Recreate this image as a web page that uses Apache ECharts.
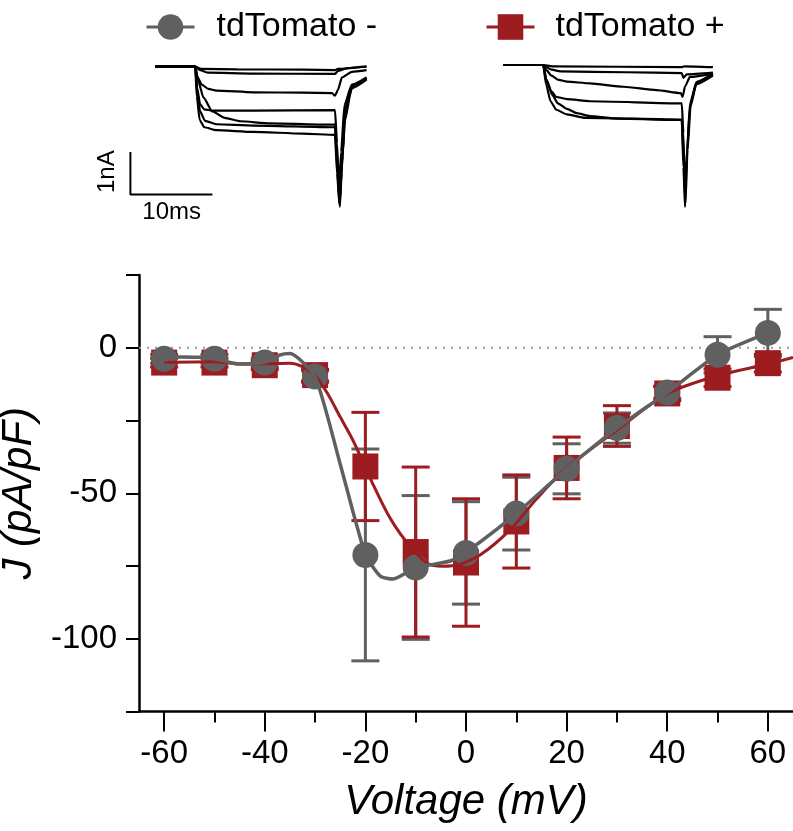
<!DOCTYPE html>
<html><head><meta charset="utf-8">
<script src="https://cdn.jsdelivr.net/npm/echarts@6/dist/echarts.min.js"></script>
<style>html,body{margin:0;padding:0;background:#fff}#c{width:793px;height:831px}</style>
</head><body><div id="c"></div>
<script>
// ---- I-V data (Voltage mV, current density pA/pF) ----
const voltages = [-60,-50,-40,-30,-20,-10,0,10,20,30,40,50,60];
const negMean = [-3.8,-3.8,-5.1,-9.9,-71.2,-75.5,-70.5,-57,-41.6,-27.6,-15.4,-2.4,5.1];
const negSem  = [1.5,1.5,1.5,2,36.4,24.7,17.6,12.5,8.6,5.2,2,6.2,8.1];
const posMean = [-5.1,-5.1,-6,-9.4,-40.8,-70.2,-73.8,-59.7,-41.3,-26.9,-15.7,-10.3,-5.3];
const posSem  = [1.5,1.5,1.5,2,18.6,29.2,21.9,16,10.6,7,2.5,3,3];
const negCurve = [[-60,-4.2],[-57,-3.2],[-53,-3.3],[-50,-3.8],[-45,-5.6],[-40,-5],[-37,-2.5],[-35,-2],[-30,-10],[-25,-40],[-20,-71],[-17,-78.5],[-14.5,-79.5],[-10,-75.5],[-7,-74.6],[-3,-73.2],[0,-70.3],[10,-57],[20,-41.6],[30,-27.6],[40,-15.4],[50,-2.4],[60,5.1]];
const posCurve = [[-60,-5],[-50,-4.8],[-45,-5.6],[-40,-5.5],[-35,-5.3],[-32.5,-6.5],[-30,-9.6],[-27.5,-15.8],[-25,-23.8],[-22.5,-31.7],[-18.6,-46.5],[-15.5,-57.3],[-12.2,-65.9],[-8,-73.7],[-4.6,-75.1],[-1.2,-74.4],[3,-71],[8.8,-62.5],[14,-52],[20,-41.3],[30,-28.3],[40,-15.8],[50,-9.6],[60,-5.6],[65,-3.3]];
const xMajorTicks = [-60,-40,-20,0,20,40,60];
const xMinorTicks = [-50,-30,-10,10,30,50];
const yLabelValues = [0,-50,-100];
const seriesNames = ['tdTomato -','tdTomato +'];

// ---- example current traces (time ms, current nA) ----
const leftTraces = [
 [[0,0],[4.9,0],[5.6,-0.05],[10,-0.06],[18,-0.07],[21.95,-0.08],[22.3,-0.05],[25.8,0.01]],
 [[0,0],[4.9,0],[5.5,-0.08],[6.5,-0.14],[12,-0.16],[21.95,-0.17],[22.3,-0.1],[23.5,-0.03],[25.8,0]],
 [[0,0],[4.9,0],[5.2,-0.25],[5.7,-0.42],[6.5,-0.52],[7.5,-0.56],[12,-0.6],[18,-0.61],[21.6,-0.62],[21.95,-0.68],[22.3,-0.55],[22.8,-0.25],[24,-0.12],[25.8,-0.08]],
 [[0,0],[4.9,0],[5.15,-0.5],[5.5,-0.88],[6,-1.0],[7,-1.03],[12,-1.03],[21.95,-1.02],[22.2,-1.8],[22.45,-2.9],[22.7,-2.0],[23.1,-0.9],[24,-0.42],[25.8,-0.25]],
 [[0,0],[4.9,0],[5.3,-0.35],[5.9,-0.72],[7,-1.05],[8.5,-1.2],[10.4,-1.28],[14,-1.33],[21.95,-1.36],[22.2,-2.2],[22.55,-3.29],[22.85,-2.1],[23.3,-0.9],[24.2,-0.42],[25.8,-0.26]],
 [[0,0],[4.9,0],[5.15,-0.6],[5.5,-1.05],[6.1,-1.27],[7.5,-1.35],[12,-1.38],[21.95,-1.42],[22.2,-2.3],[22.5,-3.2],[22.8,-2.3],[23.2,-1.0],[24,-0.45],[25.8,-0.28]],
 [[0,0],[4.9,0],[5.1,-0.7],[5.45,-1.25],[6,-1.42],[7.5,-1.49],[12,-1.53],[18,-1.57],[21.95,-1.6],[22.2,-2.5],[22.5,-3.25],[22.75,-2.5],[23.1,-1.3],[24,-0.5],[25.8,-0.3]]
];
const rightTraces = [
 [[0,0],[4.9,0],[6,-0.03],[21.8,-0.05],[22.1,-0.03],[25.6,-0.05]],
 [[0,0],[4.9,0],[5.8,-0.1],[7,-0.15],[15,-0.17],[21.8,-0.19],[22,-0.3],[22.4,-0.22],[25.6,-0.18]],
 [[0,0],[4.9,0],[5.3,-0.12],[5.9,-0.25],[6.8,-0.35],[7.8,-0.39],[10.6,-0.43],[14.7,-0.51],[18.7,-0.59],[21.7,-0.66],[21.9,-0.75],[22.2,-0.5],[22.8,-0.28],[25.6,-0.2]],
 [[0,0],[4.9,0],[5.3,-0.35],[5.9,-0.62],[6.5,-0.75],[7.8,-0.8],[10.6,-0.85],[21.8,-0.9],[22.0,-1.6],[22.2,-3.0],[22.45,-2.0],[22.8,-0.9],[23.6,-0.4],[25.6,-0.22]],
 [[0,0],[4.9,0],[5.3,-0.35],[6,-0.7],[6.7,-0.9],[7.8,-1.03],[9,-1.13],[10.6,-1.2],[14,-1.26],[21.8,-1.29],[22.0,-2.4],[22.2,-3.33],[22.4,-2.2],[22.8,-1.0],[23.6,-0.45],[25.6,-0.25]],
 [[0,0],[4.9,0],[5.25,-0.45],[5.8,-0.85],[6.5,-1.05],[7.8,-1.16],[10,-1.24],[21.8,-1.28],[22.05,-2.3],[22.25,-3.25],[22.5,-2.0],[22.9,-0.9],[23.6,-0.4],[25.6,-0.2]]
];
const scaleBar = [[-3,-2],[-3,-3],[7,-3]];
const scaleLabels = ['1nA','10ms'];

// ---- styling ----
const GRAY = '#606060', RED = '#9d1c20';
const FONT = '"Liberation Sans", Arial, Helvetica, sans-serif';

function errRender(color){
  return function(params, api){
    const x = api.value(0), lo = api.value(1), hi = api.value(2);
    const a = api.coord([x, lo]), b = api.coord([x, hi]);
    const hw = 14;
    const st = {stroke: color, lineWidth: 3, fill: null};
    return {type:'group', children:[
      {type:'line', shape:{x1:a[0],y1:a[1],x2:b[0],y2:b[1]}, style:st},
      {type:'line', shape:{x1:a[0]-hw,y1:a[1],x2:a[0]+hw,y2:a[1]}, style:st},
      {type:'line', shape:{x1:b[0]-hw,y1:b[1],x2:b[0]+hw,y2:b[1]}, style:st}
    ]};
  };
}
const negErr = voltages.map((v,i)=>[v, negMean[i]-negSem[i], negMean[i]+negSem[i]]);
const posErr = voltages.map((v,i)=>[v, posMean[i]-posSem[i], posMean[i]+posSem[i]]);
const negPts = voltages.map((v,i)=>[v, negMean[i]]);
const posPts = voltages.map((v,i)=>[v, posMean[i]]);

const traceSeries = [];
leftTraces.forEach(t => traceSeries.push({type:'line', xAxisIndex:2, yAxisIndex:1, data:t, symbol:'none', silent:true, smooth:0.2, smoothMonotone:'x', lineStyle:{color:'#000', width:2.2}, z:5}));
rightTraces.forEach(t => traceSeries.push({type:'line', xAxisIndex:3, yAxisIndex:2, data:t, symbol:'none', silent:true, smooth:0.2, smoothMonotone:'x', lineStyle:{color:'#000', width:2.2}, z:5}));
traceSeries.push({type:'line', xAxisIndex:2, yAxisIndex:1, data:scaleBar, symbol:'none', silent:true, lineStyle:{color:'#000', width:2}, z:5});

const chart = echarts.init(document.getElementById('c'), null, {renderer:'canvas'});
const legendCommon = {orient:'horizontal', top:5, itemWidth:48, itemHeight:32, itemGap:0, selectedMode:false,
  lineStyle:{width:3}};
chart.setOption({
  animation:false,
  backgroundColor:'#fff',
  textStyle:{fontFamily:FONT},
  grid:[
    {left:139, top:275, width:654, height:436.5, outerBoundsMode:'none', containLabel:false},
    {left:122.2, top:58.2, width:254.2, height:153.4, outerBoundsMode:'none', containLabel:false},
    {left:470.2, top:56.5, width:254.2, height:153.4, outerBoundsMode:'none', containLabel:false}
  ],
  legend:[
    Object.assign({}, legendCommon, {left:140, data:[seriesNames[0]], textStyle:{fontSize:34, color:'#000', fontFamily:FONT, padding:[0,0,0,17]}}),
    Object.assign({}, legendCommon, {left:480, data:[seriesNames[1]], textStyle:{fontSize:34, color:'#000', fontFamily:FONT, padding:[0,0,0,16]}})
  ],
  xAxis:[
    {gridIndex:0, type:'value', min:-65, max:65, position:'bottom',
     axisLine:{show:true, onZero:false, lineStyle:{color:'#000', width:2.5}},
     axisTick:{show:true, customValues:xMajorTicks, length:20, lineStyle:{color:'#000', width:2}},
     axisLabel:{show:true, customValues:xMajorTicks, fontSize:33, color:'#000', margin:26, fontFamily:FONT},
     splitLine:{show:false},
     name:'Voltage (mV)', nameLocation:'middle', nameGap:70,
     nameTextStyle:{fontSize:42, fontStyle:'italic', color:'#000', fontFamily:FONT}},
    {gridIndex:0, type:'value', min:-65, max:65, position:'bottom', offset:0,
     axisLine:{show:false, onZero:false},
     axisTick:{show:true, customValues:xMinorTicks, length:11, lineStyle:{color:'#000', width:2}},
     axisLabel:{show:false}, splitLine:{show:false}},
    {gridIndex:1, type:'value', min:-4, max:27, show:false},
    {gridIndex:2, type:'value', min:-4, max:27, show:false}
  ],
  yAxis:[
    {gridIndex:0, type:'value', min:-125, max:25, interval:25,
     axisLine:{show:true, onZero:false, lineStyle:{color:'#000', width:2.5}},
     axisTick:{show:true, length:13, lineStyle:{color:'#000', width:2}},
     axisLabel:{show:true, fontSize:33, color:'#000', margin:22, fontFamily:FONT,
       formatter: v => yLabelValues.indexOf(v) >= 0 ? String(v) : ''},
     splitLine:{show:false},
     name:'J (pA/pF)', nameLocation:'middle', nameGap:84,
     nameTextStyle:{fontSize:42, fontStyle:'italic', color:'#000', fontFamily:FONT}},
    {gridIndex:1, type:'value', min:-3.4, max:0.2, show:false},
    {gridIndex:2, type:'value', min:-3.4, max:0.2, show:false}
  ],
  graphic:[
    {type:'text', x:107.5, y:171.7, rotation:Math.PI/2, style:{text:scaleLabels[0], fontSize:24, fill:'#000', fontFamily:FONT, align:'center', verticalAlign:'middle'}},
    {type:'text', x:171.7, y:212, style:{text:scaleLabels[1], fontSize:24, fill:'#000', fontFamily:FONT, align:'center', verticalAlign:'middle'}}
  ],
  series:[
    {type:'line', xAxisIndex:0, yAxisIndex:0, data:[[-65,0],[65,0]], symbol:'none', silent:true,
     lineStyle:{color:'#999', width:2, type:[2,6]}, z:1},
    {type:'custom', name:'negErr', xAxisIndex:0, yAxisIndex:0, data:negErr, renderItem:errRender(GRAY), encode:{x:0, y:[1,2]}, z:2, silent:true},
    {type:'custom', name:'posErr', xAxisIndex:0, yAxisIndex:0, data:posErr, renderItem:errRender(RED), encode:{x:0, y:[1,2]}, z:2, silent:true},
    {type:'scatter', name:'posPts', xAxisIndex:0, yAxisIndex:0, data:posPts, symbol:'rect', symbolSize:26, itemStyle:{color:RED, opacity:1}, z:3, silent:true},
    {type:'scatter', name:'negPts', xAxisIndex:0, yAxisIndex:0, data:negPts, symbol:'circle', symbolSize:26, itemStyle:{color:GRAY, opacity:1}, z:4, silent:true},
    {type:'line', name:'posCurve', xAxisIndex:0, yAxisIndex:0, data:posCurve, symbol:'none', smooth:0.3, lineStyle:{color:RED, width:3}, z:5, silent:true},
    {type:'line', name:'negCurve', xAxisIndex:0, yAxisIndex:0, data:negCurve, symbol:'none', smooth:0.2, lineStyle:{color:GRAY, width:3.5}, z:5, silent:true},
    {type:'line', name:seriesNames[0], xAxisIndex:0, yAxisIndex:0, data:[], symbol:'circle', itemStyle:{color:GRAY}, lineStyle:{color:GRAY, width:3}},
    {type:'line', name:seriesNames[1], xAxisIndex:0, yAxisIndex:0, data:[], symbol:'rect', itemStyle:{color:RED}, lineStyle:{color:RED, width:3}}
  ].concat(traceSeries)
});
</script>
</body></html>
